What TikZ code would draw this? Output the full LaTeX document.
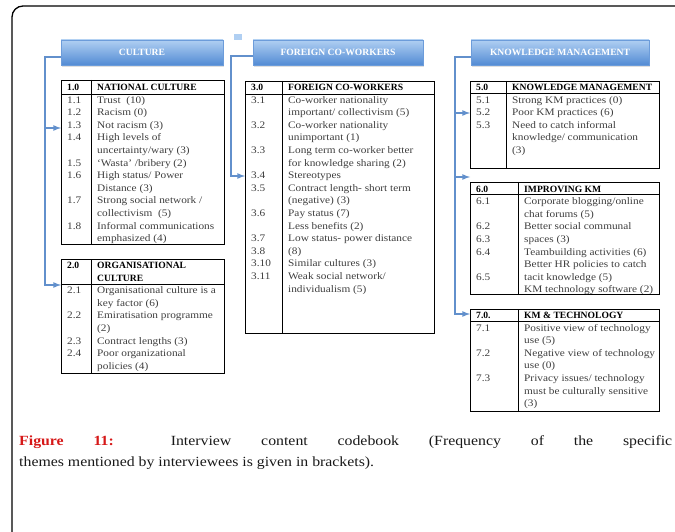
\documentclass[tikz,border=0pt]{standalone}
\usepackage{fontspec}
\setmainfont{Liberation Serif}
\newfontfamily\cbfont{Liberation Serif}[FakeStretch=1.13]
\usepackage{tikz}
\usetikzlibrary{shapes,arrows,positioning,shadows}
\definecolor{linkblue}{RGB}{98,144,204}
\definecolor{hdrtop}{RGB}{176,207,242}
\definecolor{hdrbot}{RGB}{82,139,212}
\definecolor{capred}{RGB}{214,24,24}
\definecolor{bodygray}{RGB}{62,62,62}
\newcommand{\bodysize}{\fontsize{10}{12.6}\selectfont}
\newcommand{\headsize}{\fontsize{9.6}{12.6}\selectfont}
\tikzstyle{theme} = [rectangle, draw=hdrbot!85, top color=hdrtop, bottom color=hdrbot, minimum height=25pt, inner sep=0pt, text=white, font=\headsize\bfseries, drop shadow={opacity=0.25, shadow xshift=0.6pt, shadow yshift=-1.6pt}]
\tikzstyle{codebook} = [rectangle, draw=black, line width=0.9pt, anchor=north west, inner sep=0pt]
\tikzstyle{codes} = [anchor=north west, inner sep=0pt, align=left, font=\cbfont\bodysize, text=bodygray]
\tikzstyle{codehead} = [anchor=north west, inner sep=0pt, align=left, font=\headsize\bfseries, text=black]
\tikzstyle{tedge}  = [draw, line width=1.6pt, linkblue, >=latex, ->]
\tikzstyle{capt} = [anchor=base west, inner sep=0pt, font=\cbfont\fontsize{14}{21}\selectfont, text=black!90]

\begin{document}
\begin{tikzpicture}[x=1pt, y=-1pt]
\useasboundingbox (0,0) rectangle (675,532);

% frame ==================================
\draw[line width=1.3pt, rounded corners=11pt] (12,6) rectangle (720,580);

% theme headers ==========================
\node[theme, minimum width=162pt] (hc) at (142,52.5) {CULTURE};
\node[theme, minimum width=170pt] (hf) at (338,52.5) {FOREIGN CO-WORKERS};
\node[theme, minimum width=178pt] (hk) at (560,52.5) {KNOWLEDGE MANAGEMENT};
\fill[hdrtop] (234,34) rectangle (242,40);

% codebook tables ========================
\node[codebook, minimum width=163pt, minimum height=164pt] (t1) at (61,80) {};
\node[codebook, minimum width=163pt, minimum height=114pt] (t2) at (61,259) {};
\node[codebook, minimum width=189pt, minimum height=252pt] (t3) at (245,81) {};
\node[codebook, minimum width=189pt, minimum height=87pt] (t5) at (470,81) {};
\node[codebook, minimum width=189pt, minimum height=112pt] (t6) at (470,182) {};
\node[codebook, minimum width=189pt, minimum height=102pt] (t7) at (470,309) {};

% header rows and dividers
\draw[line width=0.9pt] (t1.west |- 0,94) -- (t1.east |- 0,94);
\draw[line width=0.9pt] (t1.north -| 91,0) -- (t1.south -| 91,0);
\draw[line width=0.9pt] (t2.west |- 0,284) -- (t2.east |- 0,284);
\draw[line width=0.9pt] (t2.north -| 91,0) -- (t2.south -| 91,0);
\draw[line width=0.9pt] (t3.west |- 0,94) -- (t3.east |- 0,94);
\draw[line width=0.9pt] (t3.north -| 282,0) -- (t3.south -| 282,0);
\draw[line width=0.9pt] (t5.west |- 0,93.5) -- (t5.east |- 0,93.5);
\draw[line width=0.9pt] (t5.north -| 506,0) -- (t5.south -| 506,0);
\draw[line width=0.9pt] (t6.west |- 0,194.5) -- (t6.east |- 0,194.5);
\draw[line width=0.9pt] (t6.north -| 518,0) -- (t6.south -| 518,0);
\draw[line width=0.9pt] (t7.west |- 0,321) -- (t7.east |- 0,321);
\draw[line width=0.9pt] (t7.north -| 518,0) -- (t7.south -| 518,0);

% national culture
\node[codehead] (n1h) at (67,81.5) {\strut 1.0};
\node[codehead] (c1h) at (97,81.5) {\strut NATIONAL CULTURE};
\node[codes] (n1) at (67,94.1) {\strut 1.1\\1.2\\1.3\\1.4\\~\\1.5\\1.6\\~\\1.7\\~\\1.8};
\node[codes] (c1) at (97,94.1) {\strut Trust~ (10)\\Racism (0)\\Not racism (3)\\High levels of\\uncertainty/wary (3)\\‘Wasta’ /bribery (2)\\High status/ Power\\Distance (3)\\Strong social network /\\collectivism~ (5)\\Informal communications\\emphasized (4)};

% organisational culture
\node[codehead] (n2h) at (67,259.5) {\strut 2.0};
\node[codehead] (c2h) at (97,259.5) {\strut ORGANISATIONAL\\CULTURE};
\node[codes] (n2) at (67,284.7) {\strut 2.1\\~\\2.2\\~\\2.3\\2.4};
\node[codes] (c2) at (97,284.7) {\strut Organisational culture is a\\key factor (6)\\Emiratisation programme\\(2)\\Contract lengths (3)\\Poor organizational\\policies (4)};

% foreign co-workers
\node[codehead] (n3h) at (251,81.5) {\strut 3.0};
\node[codehead] (c3h) at (288,81.5) {\strut FOREIGN CO-WORKERS};
\node[codes] (n3) at (251,94.1) {\strut 3.1\\~\\3.2\\~\\3.3\\~\\3.4\\3.5\\~\\3.6\\~\\3.7\\3.8\\3.10\\3.11};
\node[codes] (c3) at (288,94.1) {\strut Co-worker nationality\\important/ collectivism (5)\\Co-worker nationality\\unimportant (1)\\Long term co-worker better\\for knowledge sharing (2)\\Stereotypes\\Contract length- short term\\(negative) (3)\\Pay status (7)\\Less benefits (2)\\Low status- power distance\\(8)\\Similar cultures (3)\\Weak social network/\\individualism (5)};

% knowledge management
\node[codehead] (n5h) at (476,81.5) {\strut 5.0};
\node[codehead] (c5h) at (512,81.5) {\strut KNOWLEDGE MANAGEMENT};
\node[codes] (n5) at (476,94.1) {\strut 5.1\\5.2\\5.3};
\node[codes] (c5) at (512,94.1) {\strut Strong KM practices (0)\\Poor KM practices (6)\\Need to catch informal\\knowledge/ communication\\(3)};

% improving km
\node[codehead] (n6h) at (476,183) {\strut 6.0};
\node[codehead] (c6h) at (524,183) {\strut IMPROVING KM};
\node[codes] (n6) at (476,195.6) {\strut 6.1\\~\\6.2\\6.3\\6.4\\~\\6.5};
\node[codes] (c6) at (524,195.6) {\strut Corporate blogging/online\\chat forums (5)\\Better social communal\\spaces (3)\\Teambuilding activities (6)\\Better HR policies to catch\\tacit knowledge (5)\\KM technology software (2)};

% km and technology
\node[codehead] (n7h) at (476,309.5) {\strut 7.0.};
\node[codehead] (c7h) at (524,309.5) {\strut KM \& TECHNOLOGY};
\node[codes] (n7) at (476,322.1) {\strut 7.1\\~\\7.2\\~\\7.3};
\node[codes] (c7) at (524,322.1) {\strut Positive view of technology\\use (5)\\Negative view of technology\\use (0)\\Privacy issues/ technology\\must be culturally sensitive\\(3)};

% edges ==================================
\coordinate (cs) at (45,57);
\coordinate (fs) at (231,56);
\coordinate (ks) at (455,57);

\path[tedge] (hc.west |- cs) -- (cs) |- (t2.west |- 0,285);
\path[tedge] (cs |- 0,128) -- (t1.west |- 0,128);

\path[tedge] (hf.west |- fs) -- (fs) |- (t3.west |- 0,176);

\path[tedge] (hk.west |- ks) -- (ks) |- (t7.west |- 0,314);
\path[tedge] (ks |- 0,113) -- (t5.west |- 0,113);
\path[tedge] (ks |- 0,177) -- (t6.west |- 0,177);

% caption
\node[capt] (cap1) at (19,445.5) {\makebox[653pt][s]{\textcolor{capred}{\textbf{Figure 11:}} Interview content codebook (Frequency of the specific}};
\node[capt] (cap2) at (19,466.5) {themes mentioned by interviewees is given in brackets).};

\end{tikzpicture}
\end{document}
